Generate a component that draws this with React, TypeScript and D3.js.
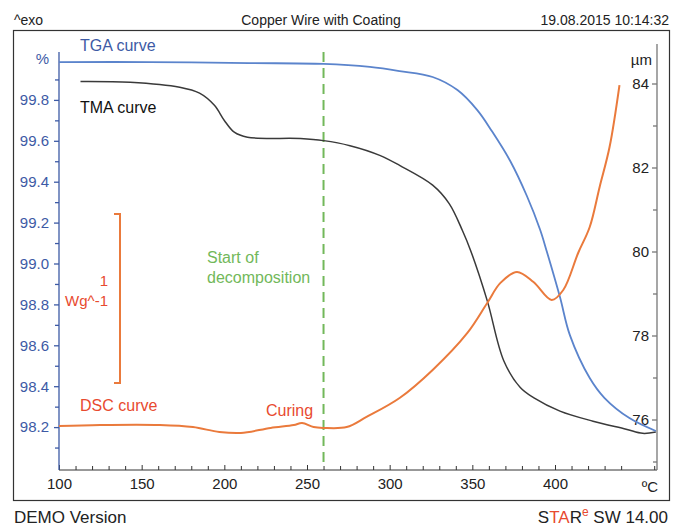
import React, { useEffect, useRef } from "react";
import * as d3 from "d3";

// TGA curve: temperature (°C) and mass (%)
const tgaTemp = [100, 155, 215, 260, 288, 306, 326, 341, 353, 362, 373, 383, 391, 395, 403, 409, 421, 430, 445, 461];
const tgaMass = [99.985, 99.985, 99.98, 99.976, 99.961, 99.941, 99.912, 99.848, 99.75, 99.645, 99.5, 99.33, 99.165, 99.06, 98.836, 98.65, 98.44, 98.342, 98.244, 98.181];

// TMA curve: temperature (°C) and thickness (µm)
const tmaTemp = [113, 143, 173, 185, 194, 200, 206, 214, 246, 260, 276, 294, 306, 326, 336, 344, 349, 359, 369, 379, 387, 403, 423, 443, 453, 461];
const tmaLength = [84.05, 84.03, 83.91, 83.77, 83.48, 83.12, 82.84, 82.72, 82.69, 82.64, 82.52, 82.29, 82.05, 81.58, 81.14, 80.5, 80.02, 78.83, 77.4, 76.76, 76.52, 76.2, 75.96, 75.77, 75.67, 75.7];

// DSC curve: temperature (°C) and heat flow (W/g, exo up, arbitrary offset)
const dscTemp = [100, 125, 161, 181, 197, 210, 228, 242, 247, 254, 260, 274, 286, 306, 326, 347, 359, 367, 377, 387, 398, 405, 414, 421, 427, 433, 439];
const dscFlow = [0.26, 0.266, 0.266, 0.254, 0.225, 0.219, 0.249, 0.266, 0.278, 0.254, 0.249, 0.254, 0.314, 0.426, 0.592, 0.811, 0.988, 1.107, 1.172, 1.112, 1.006, 1.065, 1.284, 1.438, 1.675, 1.911, 2.278];

// tick labels
const tempTicks = [100, 150, 200, 250, 300, 350, 400];
const massTicks = [98.2, 98.4, 98.6, 98.8, 99.0, 99.2, 99.4, 99.6, 99.8];
const lengthTicks = [76, 78, 80, 82, 84];

const decompositionTemp = 260;
const curingTemp = 247;
const scaleBar = [0.515, 1.515]; // 1 W/g

const FONT = "'Liberation Sans', Arial, sans-serif";

function App() {
  const ref = useRef<SVGSVGElement>(null);

  useEffect(() => {
    document.body.style.margin = "0";
    drawChart();
  }, []);

  function drawChart() {
    const svg = d3.select(ref.current);
    svg.selectAll("*").remove();

    const x = d3.scaleLinear().domain([100, 400]).range([59, 555]);
    const yMass = d3.scaleLinear().domain([98, 100]).range([468, 59]);
    const yLen = d3.scaleLinear().domain([76, 84]).range([419.5, 83.5]);
    const yDsc = d3.scaleLinear().domain([0, 1]).range([470, 301]);

    const blue = "#5b84cc";
    const axisBlue = "#3d5aa5";
    const orange = "#ea7a3c";
    const red = "#e84a2f";
    const green = "#72b85a";
    const dark = "#222";

    // outer frame
    svg.append("rect")
      .attr("x", 13.5).attr("y", 30.5)
      .attr("width", 656).attr("height", 470)
      .attr("fill", "none").attr("stroke", "#333").attr("stroke-width", 1.2);

    const text = (tx: number, ty: number, s: string, anchor = "start", color = dark, size = 14) =>
      svg.append("text")
        .attr("x", tx).attr("y", ty)
        .attr("text-anchor", anchor)
        .attr("fill", color)
        .style("font-family", FONT).style("font-size", size + "px")
        .text(s);

    // header & footer
    text(14, 25, "^exo");
    text(321, 25, "Copper Wire with Coating", "middle");
    text(669, 25, "19.08.2015 10:14:32", "end");
    text(14, 523, "DEMO Version", "start", dark, 17);

    const star = svg.append("text")
      .attr("x", 668).attr("y", 523).attr("text-anchor", "end")
      .attr("fill", dark)
      .style("font-family", FONT).style("font-size", "17px");
    star.append("tspan").text("S");
    star.append("tspan").attr("fill", red).text("TA");
    star.append("tspan").text("R");
    star.append("tspan").attr("fill", red).attr("dy", -7).style("font-size", "12px").text("e");
    star.append("tspan").attr("dy", 7).text(" SW 14.00");

    // x axis
    const xAxis = svg.append("g").attr("transform", "translate(0,470)");
    xAxis.call(
      d3.axisBottom(x).tickValues(tempTicks).tickSizeInner(-5).tickSizeOuter(0).tickPadding(8).tickFormat(d3.format("d"))
    );
    xAxis.append("g").call(
      d3.axisBottom(x).tickValues(d3.range(110, 461, 10).filter((t) => t % 50 !== 0)).tickSizeInner(-4).tickSizeOuter(0).tickFormat(() => "")
    ).select(".domain").remove();
    xAxis.select(".domain").attr("d", `M${x(100)},0H657`);
    xAxis.selectAll("path,line").attr("stroke", "#333");
    xAxis.selectAll("text").attr("fill", dark).style("font-family", FONT).style("font-size", "15px");
    text(650, 492, "ºC", "middle", dark, 15);

    // left axis (TGA %)
    const lAxis = svg.append("g").attr("transform", "translate(59,0)");
    lAxis.call(d3.axisLeft(yMass).tickValues(massTicks).tickSize(5).tickPadding(5).tickFormat(d3.format(".1f")));
    lAxis.append("g").call(
      d3.axisLeft(yMass).tickValues(d3.range(98.1, 100.01, 0.2).map((v) => +v.toFixed(1))).tickSize(4).tickFormat(() => "")
    ).select(".domain").remove();
    lAxis.select(".domain").attr("d", "M0,52V470");
    lAxis.selectAll("path,line").attr("stroke", axisBlue).attr("stroke-width", 1.3);
    lAxis.selectAll("text").attr("fill", axisBlue).style("font-family", FONT).style("font-size", "15px");
    text(49, yMass(100) + 5, "%", "end", axisBlue, 15);

    // right axis (TMA µm)
    const rAxis = svg.append("g").attr("transform", "translate(657,0)");
    rAxis.call(d3.axisLeft(yLen).tickValues(lengthTicks).tickSize(5).tickPadding(3).tickFormat(d3.format("d")));
    rAxis.append("g").call(
      d3.axisLeft(yLen).tickValues([75, 77, 79, 81, 83]).tickSize(4).tickFormat(() => "")
    ).select(".domain").remove();
    rAxis.select(".domain").attr("d", "M0,44V470");
    rAxis.selectAll("path,line").attr("stroke", "#777").attr("stroke-width", 1.3);
    rAxis.selectAll("text").attr("fill", dark).style("font-family", FONT).style("font-size", "15px");
    text(652, 65, "µm", "end", dark, 15);

    // start of decomposition
    svg.append("line")
      .attr("x1", x(decompositionTemp)).attr("x2", x(decompositionTemp))
      .attr("y1", 52).attr("y2", 468)
      .attr("stroke", green).attr("stroke-width", 2).attr("stroke-dasharray", "10,6");

    // curves
    const smooth = d3.curveCatmullRom.alpha(0.5);
    const tgaLine = d3.line<number>()
      .x((d, i) => x(tgaTemp[i]))
      .y((d) => yMass(d))
      .curve(smooth);
    const tmaLine = d3.line<number>()
      .x((d, i) => x(tmaTemp[i]))
      .y((d) => yLen(d))
      .curve(smooth);
    const dscLine = d3.line<number>()
      .x((d, i) => x(dscTemp[i]))
      .y((d) => yDsc(d))
      .curve(smooth);

    svg.append("path").attr("d", tmaLine(tmaLength))
      .attr("fill", "none").attr("stroke", "#3a3a3a").attr("stroke-width", 1.5);
    svg.append("path").attr("d", tgaLine(tgaMass))
      .attr("fill", "none").attr("stroke", blue).attr("stroke-width", 1.8);
    svg.append("path").attr("d", dscLine(dscFlow))
      .attr("fill", "none").attr("stroke", orange).attr("stroke-width", 2);

    // DSC scale bar
    const barX = 120;
    svg.append("path")
      .attr("d", `M${barX - 6},${yDsc(scaleBar[1])}H${barX}V${yDsc(scaleBar[0])}H${barX - 6}`)
      .attr("fill", "none").attr("stroke", orange).attr("stroke-width", 2);
    text(108, 286, "1", "end", red, 15);
    text(108, 306, "Wg^-1", "end", red, 15);

    // curve labels
    text(80, 51, "TGA curve", "start", axisBlue, 16);
    text(80, 113, "TMA curve", "start", "#111", 16);
    text(80, 411, "DSC curve", "start", red, 16);
    text(x(curingTemp) - 36, 416, "Curing", "start", red, 16);
    text(207, 263, "Start of", "start", green, 16);
    text(207, 283, "decomposition", "start", green, 16);
  }

  return (
    <div style={{ width: 684, height: 526 }}>
      <svg ref={ref} width={684} height={526} style={{ display: "block", background: "#fff" }} />
    </div>
  );
}

export default App;
